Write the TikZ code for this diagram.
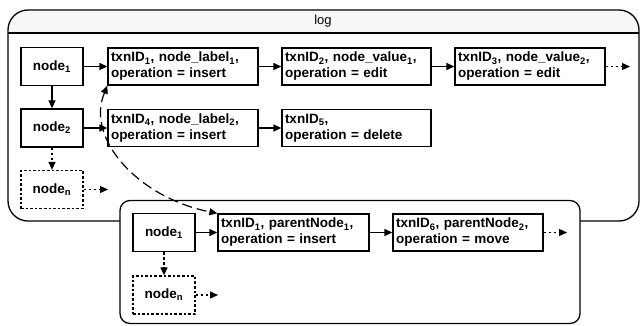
\documentclass[tikz,border=0pt]{standalone}
\usepackage{fontspec}
\setmainfont{Liberation Sans}
\usetikzlibrary{arrows.meta}
\newcommand{\idx}[1]{\textsubscript{#1}}
\begin{document}
\begin{tikzpicture}[x=1pt,y=-1pt,
  line width=1.3pt,
  every node/.style={font=\bfseries\fontsize{13.5}{16}\selectfont},
  keybox/.style={draw, minimum width=62pt, minimum height=38pt, inner sep=0pt},
  dotbox/.style={keybox, dash pattern=on 2.6pt off 2pt},
  entry/.style={draw, minimum height=37pt, text width=#1-6pt, inner sep=3pt, align=left},
  link/.style={-{Triangle[length=8pt,width=7pt]}},
  dotlink/.style={link, dash pattern=on 2.6pt off 2.4pt},
  jump/.style={{Triangle[length=8pt,width=7pt]}-{Triangle[length=8pt,width=7pt]}, dash pattern=on 10pt off 5pt, line width=1.2pt}
]
\useasboundingbox (0,0) rectangle (640,325);

% log container with its title band
\fill[black!3] (8,33) {[rounded corners=22pt] -- (8,10) -- (639,10)} -- (639,33) -- cycle;
\draw[rounded corners=20pt] (8,10) rectangle (639,221);
\draw (8,33) -- (639,33);
\node[font=\fontsize{13}{15}\selectfont] (title) at (323,21.5) {log};

% log rows
\node[keybox] (n1) at (52,66.5) {node\idx{1}};
\node[keybox] (n2) at (52,128) {node\idx{2}};
\node[dotbox] (nn) at (52,189.5) {node\idx{n}};

\node[entry=150pt] (t1) at (183,66.5) {txnID\idx{1}, node\_label\idx{1},\\operation = insert};
\node[entry=149pt] (t2) at (356.5,66.5) {txnID\idx{2}, node\_value\idx{1},\\operation = edit};
\node[entry=150pt] (t3) at (530,66.5) {txnID\idx{3}, node\_value\idx{2},\\operation = edit};
\node[entry=150pt] (t4) at (183,128) {txnID\idx{4}, node\_label\idx{2},\\operation = insert};
\node[entry=149pt] (t5) at (356.5,128) {txnID\idx{5},\\operation = delete};

\coordinate (t3end) at (630,66.5);
\coordinate (nnend) at (108,189.5);

\draw[link] (n1) -- (t1);
\draw[link] (t1) -- (t2);
\draw[link] (t2) -- (t3);
\draw[dotlink] (t3) -- (t3end);
\draw[link] (n1) -- (n2);
\draw[link] (n2) -- (t4);
\draw[link] (t4) -- (t5);
\draw[dotlink] (n2) -- (nn);
\draw[dotlink] (nn) -- (nnend);

% parent container
\draw[fill=white, rounded corners=10pt] (120,200.5) rectangle (580,323.5);

\node[keybox] (p1) at (164,232.5) {node\idx{1}};
\node[dotbox] (pn) at (164,295) {node\idx{n}};
\node[entry=151pt] (q1) at (293.5,232.5) {txnID\idx{1}, parentNode\idx{1},\\operation = insert};
\node[entry=150pt] (q6) at (468,232.5) {txnID\idx{6}, parentNode\idx{2},\\operation = move};

\coordinate (q6end) at (567,232.5);
\coordinate (pnend) at (218,295);

\draw[link] (p1) -- (q1);
\draw[link] (q1) -- (q6);
\draw[dotlink] (q6) -- (q6end);
\draw[dotlink] (p1) -- (pn);
\draw[dotlink] (pn) -- (pnend);

% the same insert seen from both sides
\draw[jump] (t1.south west) .. controls (85,140) and (140,198) .. (q1.north west);
\end{tikzpicture}
\end{document}
